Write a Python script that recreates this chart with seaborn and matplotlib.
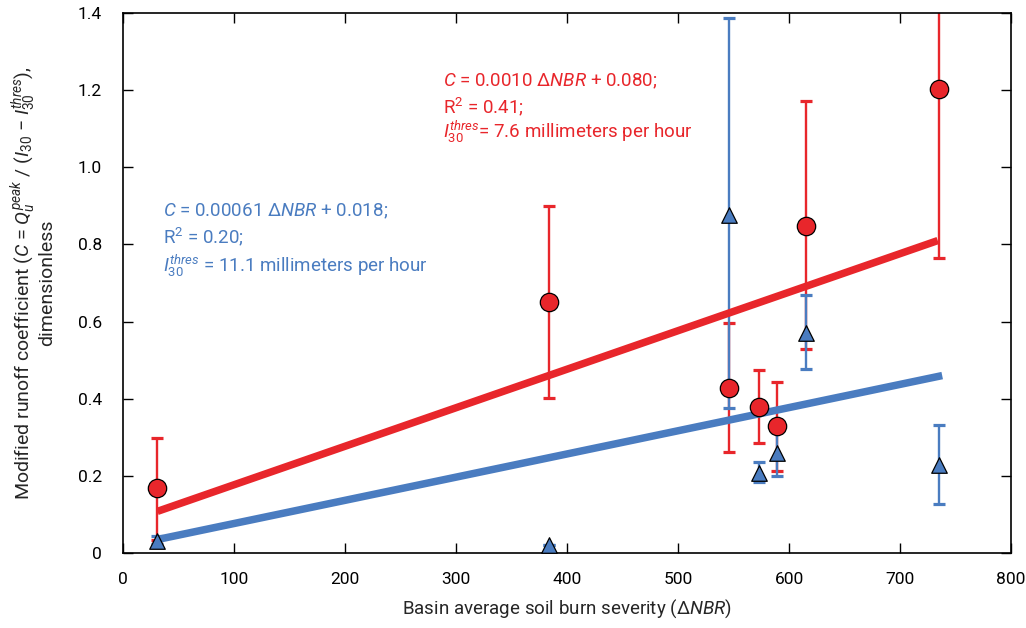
import matplotlib
matplotlib.use("Agg")
import matplotlib.pyplot as plt
import seaborn as sns
import pandas as pd

# basin average dNBR and modified runoff coefficient
dnbr = [31, 384, 546, 573, 589, 615, 735]

c_red = [0.168, 0.651, 0.428, 0.379, 0.329, 0.849, 1.202]
red_hi = [0.298, 0.900, 0.596, 0.474, 0.443, 1.172, 1.600]
red_lo = [0.034, 0.402, 0.262, 0.285, 0.213, 0.529, 0.766]

c_blue = [0.030, 0.020, 0.877, 0.208, 0.260, 0.570, 0.228]
blue_hi = [0.044, 0.020, 1.386, 0.237, 0.325, 0.669, 0.332]
blue_lo = [0.024, 0.020, 0.376, 0.184, 0.200, 0.477, 0.127]

# regression lines (end points)
fit_x_red = [31, 734]
fit_y_red = [0.108, 0.810]
fit_x_blue = [31, 738]
fit_y_blue = [0.035, 0.460]

xticks = [0, 100, 200, 300, 400, 500, 600, 700, 800]
yticks = [0, 0.2, 0.4, 0.6, 0.8, 1.0, 1.2, 1.4]
ytick_labels = ["0", "0.2", "0.4", "0.6", "0.8", "1.0", "1.2", "1.4"]

RED = "#E8262B"
BLUE = "#4A7CC0"
FONT = "Roboto"

sns.set_style("ticks")
plt.rcParams["font.family"] = [FONT, "DejaVu Sans"]
plt.rcParams["mathtext.fontset"] = "custom"
plt.rcParams["mathtext.rm"] = FONT
plt.rcParams["mathtext.it"] = FONT + ":italic"
plt.rcParams["mathtext.bf"] = FONT + ":bold"

df_red = pd.DataFrame({"dnbr": dnbr, "c": c_red})
df_blue = pd.DataFrame({"dnbr": dnbr, "c": c_blue})

fig = plt.figure(figsize=(10.26, 6.28), dpi=100)
ax = fig.add_axes([0.1199, 0.1194, 0.8655, 0.8599])

# error bars
ax.errorbar(dnbr, c_red,
            yerr=[[c - l for c, l in zip(c_red, red_lo)], [h - c for c, h in zip(c_red, red_hi)]],
            fmt="none", ecolor=RED, elinewidth=1.7, capsize=4.5, capthick=2.3, zorder=2)
ax.errorbar(dnbr, c_blue,
            yerr=[[c - l for c, l in zip(c_blue, blue_lo)], [h - c for c, h in zip(c_blue, blue_hi)]],
            fmt="none", ecolor=BLUE, elinewidth=1.7, capsize=4.5, capthick=2.3, zorder=2)

# regression lines
sns.lineplot(x=fit_x_red, y=fit_y_red, color=RED, linewidth=5.4, ax=ax,
             solid_capstyle="butt", zorder=3)
sns.lineplot(x=fit_x_blue, y=fit_y_blue, color=BLUE, linewidth=5.4, ax=ax,
             solid_capstyle="butt", zorder=3)

# data points
sns.scatterplot(data=df_red, x="dnbr", y="c", marker="o", s=175, color=RED,
                edgecolor="black", linewidth=0.9, ax=ax, zorder=4)
sns.scatterplot(data=df_blue, x="dnbr", y="c", marker="^", s=125, color=BLUE,
                edgecolor="black", linewidth=0.9, ax=ax, zorder=5)

ax.set_xlim(0, 800)
ax.set_ylim(0, 1.4)
ax.set_xticks(xticks)
ax.set_yticks(yticks)
ax.set_yticklabels(ytick_labels)
ax.tick_params(axis="both", direction="in", length=7, width=1, colors="black",
               labelsize=12.5, top=True, right=True)
ax.tick_params(axis="x", pad=14)
ax.tick_params(axis="y", pad=15)
for s in ax.spines.values():
    s.set_color("black")
    s.set_linewidth(1.2)

ax.set_xlabel(r"Basin average soil burn severity ($\Delta$$NBR$)", fontsize=13.5, labelpad=7)
ax.set_ylabel("Modified runoff coefficient ($C$ = $Q_u^{peak}$ / ($I_{30}$ \u2212 $I_{30}^{thres}$),\n"
              "dimensionless", fontsize=14, labelpad=16, linespacing=1.0)

# equation annotations
ax.text(288, 1.21, r"$C$ = 0.0010 $\Delta$$NBR$ + 0.080;", color=RED, fontsize=13.5)
ax.text(288, 1.139, r"R$^2$ = 0.41;", color=RED, fontsize=13.5)
ax.text(288, 1.077, r"$I_{30}^{thres}$= 7.6 millimeters per hour", color=RED, fontsize=13.5)

ax.text(36, 0.872, r"$C$ = 0.00061 $\Delta$$NBR$ + 0.018;", color=BLUE, fontsize=13.5)
ax.text(36, 0.802, r"R$^2$ = 0.20;", color=BLUE, fontsize=13.5)
ax.text(36, 0.730, r"$I_{30}^{thres}$ = 11.1 millimeters per hour", color=BLUE, fontsize=13.5)

fig.savefig("out.png", dpi=100)
